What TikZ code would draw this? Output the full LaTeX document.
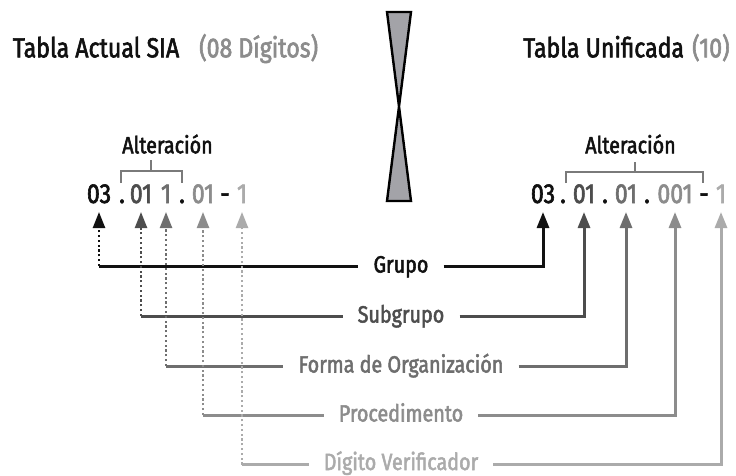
\documentclass[tikz,border=0pt]{standalone}
\usepackage{fontspec}
\setmainfont{Fira Sans}[FakeStretch=0.84,FakeBold=2.2]
\usetikzlibrary{arrows.meta}
\definecolor{cA}{HTML}{111111}
\definecolor{cB}{HTML}{4D4D4D}
\definecolor{cC}{HTML}{6E6E6E}
\definecolor{cD}{HTML}{8C8C8C}
\definecolor{cE}{HTML}{ABABAB}
\definecolor{brk}{HTML}{7A7A7A}
\definecolor{hg}{HTML}{A3A3A8}
\begin{document}
\begin{tikzpicture}[x=1pt,y=-1pt,
 tok/.style={anchor=base,inner sep=0pt,font=\fontsize{27.5}{27.5}\selectfont},
 lab/.style={anchor=base,inner xsep=15pt,inner ysep=0pt,font=\fontsize{23.5}{23.5}\selectfont},
 alt/.style={anchor=base,inner sep=0pt,text=cA,font=\fontsize{23.5}{23.5}\selectfont},
 head/.style={anchor=base west,inner sep=0pt,font=\fontsize{27.5}{27.5}\selectfont},
 hline/.style={line width=3pt},
 dotl/.style={line width=2.4pt,dash pattern=on 2.2pt off 2.6pt},
 tip/.style={-{Triangle[width=12pt,length=16pt]}, shorten >=9pt},
 brkl/.style={draw=brk,line width=2.4pt}]
\useasboundingbox (0,0) rectangle (736,476);
% headings
\node[head,text=cA] (h1) at (12.7,57.3) {Tabla Actual SIA};
\node[head,text=cD] (h2) at (199,57.3) {(08 Dígitos)};
\node[head,text=cA] (h3) at (523,57.3) {Tabla Unificada};
\node[head,text=cD] (h4) at (692,57.3) {(10)};
% hourglass
\draw[fill=hg,line width=2.4pt] (387,12) -- (411,12) -- (387,201) -- (411,201) -- cycle;
% Alteracion
\node[alt] (altL) at (167.5,153.3) {Alteración};
\node[alt] (altR) at (630.5,153.3) {Alteración};
\draw[brkl] (121,183) -- (121,171) -- (182,171) -- (182,183);
\draw[brkl] (151,171) -- (151,160);
\draw[brkl] (566,183) -- (566,172) -- (703,172) -- (703,183);
\draw[brkl] (635,172) -- (635,162);
% left code
\node[tok,text=cA] (l03) at (99,203) {03};
\node[tok,text=cA] (ld1) at (122,203) {.};
\node[tok,text=cB] (l01) at (141,203) {01};
\node[tok,text=cC] (l1) at (166,203) {1};
\node[tok,text=cA] (ld2) at (182,203) {.};
\node[tok,text=cD] (l01b) at (203,203) {01};
\node[tok,text=cA] (lds) at (225,203) {-};
\node[tok,text=cE] (l1b) at (242,203) {1};
% right code
\node[tok,text=cA] (r03) at (543,203) {03};
\node[tok,text=cA] (rd1) at (563,203) {.};
\node[tok,text=cB] (r01) at (584,203) {01};
\node[tok,text=cA] (rd2) at (605,203) {.};
\node[tok,text=cC] (r01b) at (626,203) {01};
\node[tok,text=cA] (rd3) at (647,203) {.};
\node[tok,text=cD] (r001) at (675,203) {001};
\node[tok,text=cA] (rds) at (704,203) {-};
\node[tok,text=cE] (r1) at (721,203) {1};
% line levels
\coordinate (yG) at (0,266);
\coordinate (yS) at (0,316);
\coordinate (yF) at (0,366);
\coordinate (yP) at (0,415);
\coordinate (yD) at (0,464.5);
% labels
\node[lab,text=cA] (G) at (401,272.5) {Grupo};
\node[lab,text=cB] (S) at (401,322.5) {Subgrupo};
\node[lab,text=cC] (F) at (401,372.5) {Forma de Organización};
\node[lab,text=cD] (P) at (401,421.5) {Procedimento};
\node[lab,text=cE] (D) at (401,470) {Dígito Verificador};
% connectors
\draw[dotl,cA,tip] (l03 |- yG) -- (l03.base);
\draw[hline,cA] (l03 |- yG) -- (G.west |- yG);
\draw[hline,cA,tip] (G.east |- yG) -- (r03 |- yG) -- (r03.base);
\draw[dotl,cB,tip] (l01 |- yS) -- (l01.base);
\draw[hline,cB] (l01 |- yS) -- (S.west |- yS);
\draw[hline,cB,tip] (S.east |- yS) -- (r01 |- yS) -- (r01.base);
\draw[dotl,cC,tip] (l1 |- yF) -- (l1.base);
\draw[hline,cC] (l1 |- yF) -- (F.west |- yF);
\draw[hline,cC,tip] (F.east |- yF) -- (r01b |- yF) -- (r01b.base);
\draw[dotl,cD,tip] (l01b |- yP) -- (l01b.base);
\draw[hline,cD] (l01b |- yP) -- (P.west |- yP);
\draw[hline,cD,tip] (P.east |- yP) -- (r001 |- yP) -- (r001.base);
\draw[dotl,cE,tip] (l1b |- yD) -- (l1b.base);
\draw[hline,cE] (l1b |- yD) -- (D.west |- yD);
\draw[hline,cE,tip] (D.east |- yD) -- (r1 |- yD) -- (r1.base);
\end{tikzpicture}
\end{document}
